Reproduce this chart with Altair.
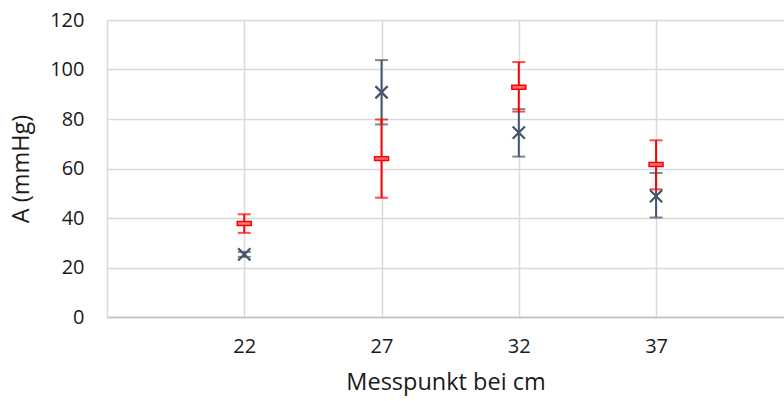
import altair as alt
import pandas as pd

# Measurement positions (cm)
positions = [22, 27, 32, 37]

# Series 1 (red): mean with lower / upper error bounds
red_mean = [37.8, 64.0, 92.8, 61.6]
red_low = [34.0, 48.2, 83.0, 51.6]
red_high = [41.5, 79.8, 103.0, 71.4]

# Series 2 (slate): mean with lower / upper error bounds
slate_mean = [25.3, 90.8, 74.5, 48.8]
slate_low = [24.3, 77.8, 64.8, 40.2]
slate_high = [26.3, 103.8, 84.0, 58.2]

RED = "#FF0000"
SLATE = "#44546A"
FONT = "Open Sans"

red = pd.DataFrame({"x": positions, "m": red_mean, "lo": red_low, "hi": red_high})
slate = pd.DataFrame({"x": positions, "m": slate_mean, "lo": slate_low, "hi": slate_high})

xscale = alt.Scale(domain=[17, 41.66], nice=False, zero=False)
yscale = alt.Scale(domain=[0, 120], nice=False)

xenc = alt.X(
    "x:Q",
    scale=xscale,
    title="Messpunkt bei cm",
    axis=alt.Axis(values=positions, format="d"),
)
yenc = alt.Y(
    "m:Q",
    scale=yscale,
    title="A (mmHg)",
    axis=alt.Axis(values=[0, 20, 40, 60, 80, 100, 120]),
)


def series(df, color, marker):
    base = alt.Chart(df)
    bar = base.mark_rule(color=color, strokeWidth=2).encode(
        x=xenc, y=alt.Y("lo:Q", scale=yscale), y2="hi:Q"
    )
    cap_lo = base.mark_tick(color=color, orient="horizontal", size=13, thickness=2).encode(
        x=xenc, y=alt.Y("lo:Q", scale=yscale)
    )
    cap_hi = base.mark_tick(color=color, orient="horizontal", size=13, thickness=2).encode(
        x=xenc, y=alt.Y("hi:Q", scale=yscale)
    )
    return [bar, cap_lo, cap_hi, marker(base)]


def dash_marker(base):
    return base.mark_point(
        shape="M-1,-0.28L1,-0.28L1,0.28L-1,0.28Z",
        size=196,
        filled=True,
        fill="#FF7070",
        stroke=RED,
        strokeWidth=1.5,
        opacity=1,
    ).encode(x=xenc, y=yenc)


def x_marker(base):
    return base.mark_point(
        shape="M-1,-1L1,1M1,-1L-1,1",
        size=150,
        filled=False,
        stroke=SLATE,
        strokeWidth=2.2,
        opacity=1,
    ).encode(x=xenc, y=yenc)


layers = series(slate, SLATE, x_marker) + series(red, RED, dash_marker)

chart = (
    alt.layer(*layers)
    .properties(
        width=677,
        height=297,
        autosize=alt.AutoSizeParams(type="none"),
        padding={"left": 107, "top": 20, "right": 0, "bottom": 84},
    )
    .configure_view(stroke=None)
    .configure_axis(
        labelFont=FONT,
        titleFont=FONT,
        labelFontSize=20,
        titleFontSize=23.5,
        labelColor="#1a1a1a",
        titleColor="#1a1a1a",
        titleFontWeight="normal",
        gridColor="#D9D9D9",
        gridWidth=1.5,
        ticks=False,
    )
    .configure_axisX(
        domainColor="#BFBFBF",
        domainWidth=1.5,
        labelPadding=19,
        titlePadding=14,
    )
    .configure_axisY(
        domainColor="#D9D9D9",
        domainWidth=1.5,
        labelPadding=23,
        titlePadding=16,
    )
)

chart.save("out.html", embed_options={"renderer": "svg", "actions": False})
